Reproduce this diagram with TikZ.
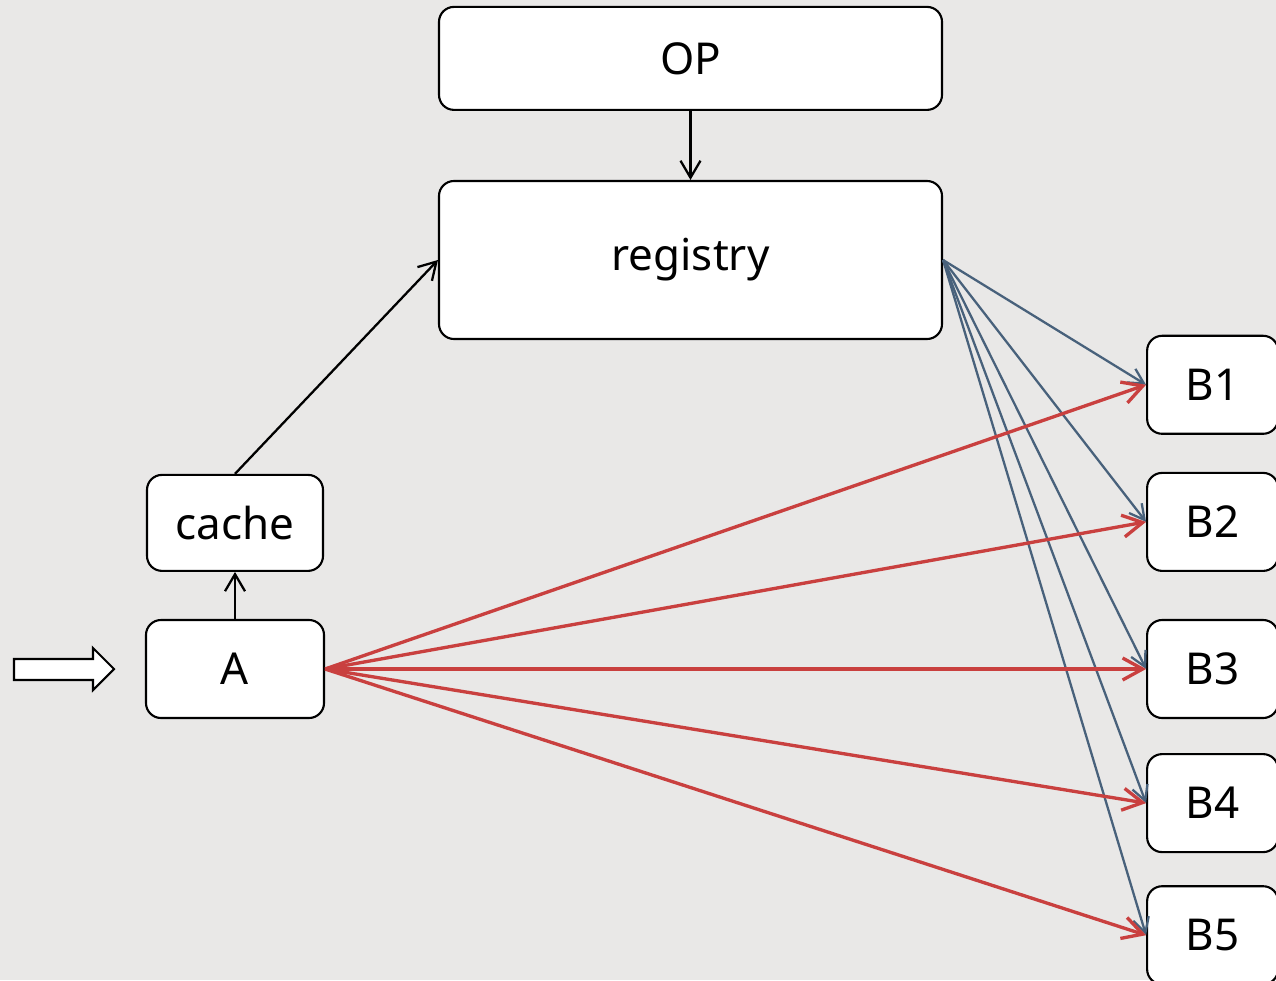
\documentclass[tikz,border=0pt]{standalone}
\usepackage{fontspec}
\setmainfont{Noto Sans}
\usetikzlibrary{positioning,arrows.meta}

\definecolor{bgray}{HTML}{E9E8E7}
\definecolor{redline}{HTML}{C9403F}
\definecolor{blueline}{HTML}{48617B}

\tikzset{
  box/.style={draw=black,fill=white,rounded corners=0.3cm,line width=1.2pt,inner sep=0pt,font=\fontsize{25}{30}\selectfont},
  bbox/.style={box,minimum width=2.62cm,minimum height=1.96cm},
  blk/.style={draw=black,line width=1.3pt,-{Straight Barb[length=3.4mm,width=4mm]}},
  redarr/.style={draw=redline,line width=1.9pt,-{Straight Barb[length=4mm,width=4.4mm]}},
  bluearr/.style={draw=blueline,line width=1.3pt,-{Straight Barb[length=3mm,width=3.2mm]}}
}

\begin{document}
\begin{tikzpicture}[line width=1.2pt]
                    \fill[bgray] (0,0) rectangle (25.52,-19.6);
                    \useasboundingbox (0,0) rectangle (25.52,-19.6);
                    \node[box,minimum width=3.56cm,minimum height=1.96cm] (a) at (4.70,-13.38) {A};
                    \node[box,above=0.94cm of a,minimum width=3.52cm,minimum height=1.92cm] (cache) {cache};
                    \node[box,minimum width=10.06cm,minimum height=3.16cm] (reg) at (13.81,-5.20) {registry};
                    \node[box,above=1.38cm of reg,minimum width=10.06cm,minimum height=2.06cm] (op) {OP};
                    \node[bbox,right=16.42cm of a] (b3) {B3};
                    \node[bbox,above=0.94cm of b3] (b2) {B2};
                    \node[bbox,above=0.74cm of b2] (b1) {B1};
                    \node[bbox,below=0.68cm of b3] (b4) {B4};
                    \node[bbox,below=0.64cm of b4] (b5) {B5};
                    % input arrow
                    \draw[fill=white] (0.28,-13.18) -- (1.86,-13.18) -- (1.86,-12.96) -- (2.28,-13.38)
                      -- (1.86,-13.80) -- (1.86,-13.60) -- (0.28,-13.60) -- cycle;
                    \draw[blk] (op) -- (reg);
                    \draw[blk] (a) -- (cache);
                    \draw[blk] (cache.north) -- (reg.west);
                    \foreach \b in {b1,b2,b3,b4,b5}
                      \draw[bluearr] (reg.east) -- (\b.west);
                    \foreach \b in {b1,b2,b3,b4,b5}
                      \draw[redarr] (a.east) -- (\b.west);
                \end{tikzpicture}
\end{document}
